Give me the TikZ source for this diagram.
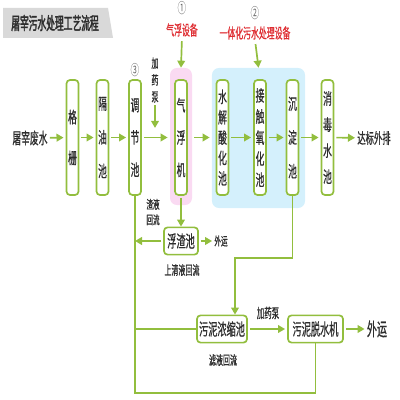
\documentclass[tikz,border=0pt]{standalone}
\usepackage{fontspec}
\setmainfont{Noto Sans CJK SC}[Scale=1.13,FakeStretch=0.55,FakeBold=0.6]
\newfontfamily\titlefont{Noto Sans CJK SC}[Scale=1.13,FakeStretch=0.5,FakeBold=1.8]
\newfontfamily\numfont{Noto Sans CJK SC}[Scale=1.13,FakeStretch=0.6]
\usetikzlibrary{arrows.meta}

\definecolor{grn}{RGB}{146,190,62}
\definecolor{pinkbg}{RGB}{250,218,242}
\definecolor{bluebg}{RGB}{212,240,252}
\definecolor{redtxt}{RGB}{222,45,50}
\definecolor{txt}{RGB}{45,45,45}

\tikzset{
  box/.style={draw=grn, line width=1.2pt, rounded corners=2.5pt, fill=white, text=txt, inner sep=1pt},
  vbox/.style={box, minimum width=0.3cm, minimum height=2.875cm, align=center, font=\fontsize{10}{#1}\selectfont},
  hbox/.style={box, minimum height=0.68cm, font=\fontsize{10.5}{12}\selectfont},
  flow/.style={draw=grn, line width=1.2pt, shorten <=1.5pt, shorten >=1.5pt, -{Triangle[length=5pt,width=5.5pt]}},
  pipe/.style={draw=grn, line width=1.2pt},
  lbl/.style={text=txt, inner sep=0pt, font=\fontsize{#1}{#1}\selectfont},
  num/.style={text=black!60, inner sep=0pt, font=\numfont\fontsize{9}{9}\selectfont},
  red/.style={text=redtxt, inner sep=0pt, font=\fontsize{9}{9}\selectfont},
  bg/.style={rounded corners=5pt, inner sep=0pt}
}

\begin{document}
\begin{tikzpicture}[x=0.025cm, y=-0.025cm]
  \useasboundingbox (0,0) rectangle (400,400);

  % title
  \fill[gray!30] (3,8) -- (108,8) -- (113,38) -- (3,38) -- cycle;
  \node[text=txt, inner sep=0pt, font=\titlefont\fontsize{11}{11}\selectfont] (title) at (55,23) {屠宰污水处理工艺流程};

  % equipment backgrounds
  \node[bg, fill=pinkbg, minimum width=0.55cm, minimum height=3.425cm] (pk) at (181,136.5) {};
  \node[bg, fill=bluebg, minimum width=2.325cm, minimum height=3.5cm] (bl) at (258.5,138) {};

  \node[num] (n1) at (182,8) {①};
  \node[red] (qfsb) at (182,30) {气浮设备};
  \node[num] (n2) at (255,13) {②};
  \node[red] (ythsb) at (255,33) {一体化污水处理设备};
  \node[num] (n3) at (135,70) {③};

  % main line
  \node[lbl=10] (in) at (30,138) {屠宰废水};
  \node[vbox=29pt] (gs) at (72.5,137.5) {格\\栅};
  \node[vbox=24pt] (gy) at (102.5,137.5) {隔\\油\\池};
  \node[vbox=23pt] (tj) at (135,137.5) {调\\节\\池};
  \node[vbox=23pt] (qf) at (181,137.5) {气\\浮\\机};
  \node[vbox=14.5pt] (sj) at (222.5,137.5) {水\\解\\酸\\化\\池};
  \node[vbox=15pt] (jc) at (260,137.5) {接\\触\\氧\\化\\池};
  \node[vbox=24pt] (cd) at (292.5,137.5) {沉\\淀\\池};
  \node[vbox=18.5pt] (xd) at (327.5,137.5) {消\\毒\\水\\池};
  \node[lbl=9.5] (out) at (374,138) {达标外排};

  \node[lbl=8, align=center, font=\fontsize{8}{12}\selectfont] (jy1) at (155,80) {加\\药\\泵};
  \coordinate (jyend) at (155,130);

  % lower part
  \node[hbox, minimum width=0.85cm] (fz) at (181,241) {浮渣池};
  \node[lbl=7.5] (wy1) at (221,241) {外运};
  \node[lbl=7.5, align=center, font=\fontsize{7.5}{11}\selectfont] (zy) at (153,212) {渣液\\回流};
  \node[lbl=8] (sq) at (182,270) {上清液回流};
  \node[hbox, minimum width=1.25cm] (wn) at (222,329) {污泥浓缩池};
  \node[hbox, minimum width=1.375cm] (ws) at (315.5,329) {污泥脱水机};
  \node[lbl=8.5] (jy2) at (268,313) {加药泵};
  \node[lbl=11.5] (wy2) at (377,329) {外运};
  \node[lbl=8] (ly) at (223,360) {滤液回流};
  \coordinate (k) at (235,258);

  \draw[flow] (in) -- (gs);
  \draw[flow] (gs) -- (gy);
  \draw[flow] (gy) -- (tj);
  \draw[flow] (tj.east) -- (tj.east -| pk.west);
  \draw[flow] (jy1.south) -- (jyend);
  \draw[flow] (qf.east -| pk.east) -- (qf.east -| bl.west);
  \draw[flow] (sj) -- (jc);
  \draw[flow] (jc) -- (cd);
  \draw[flow] (cd) -- (xd);
  \draw[flow] (xd) -- (out);
  \draw[flow, shorten <=3pt, shorten >=0pt] (qfsb.south) -- (pk.north);
  \draw[flow, shorten <=3pt, shorten >=0pt] (ythsb.south) -- (bl.north);

  \draw[pipe] (tj.south) -- ++(0,197) -| (ws.south);
  \draw[flow, shorten >=0pt] (qf.south) -- (fz.north);
  \draw[flow, shorten >=0pt] (fz.west) -- (fz.west -| tj.south);
  \draw[flow] (fz.east) -- (wy1.west);
  \draw[pipe, -{Triangle[length=5pt,width=5.5pt]}] (cd.south) |- (k) -- (k |- wn.north);
  \draw[pipe] (wn.west -| tj.south) -- (wn.west);
  \draw[flow] (wn) -- (ws);
  \draw[flow] (ws) -- (wy2);
\end{tikzpicture}
\end{document}
